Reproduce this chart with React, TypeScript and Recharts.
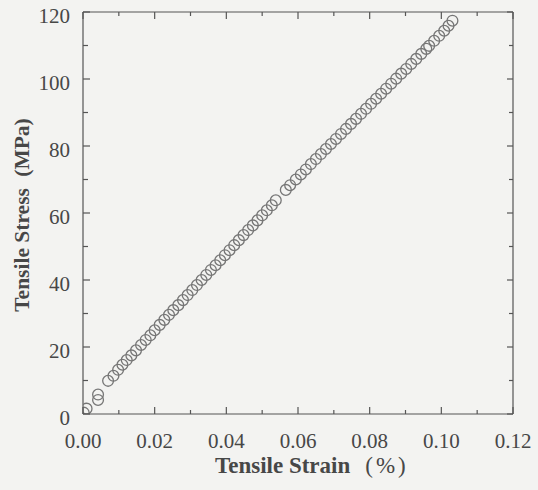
import { ScatterChart, Scatter, XAxis, YAxis } from 'recharts';

// tensile test readings (strain in %, stress in MPa)
const strain = [
  0.0002, 0.0010, 0.0042, 0.0042,
  0.0070, 0.0085, 0.0098, 0.0110, 0.0122, 0.0135, 0.0148, 0.0162, 0.0175, 0.0188,
  0.0200, 0.0214, 0.0227, 0.0240, 0.0252, 0.0266, 0.0279, 0.0292, 0.0305, 0.0318,
  0.0331, 0.0344, 0.0357, 0.0370, 0.0383, 0.0396, 0.0409, 0.0422, 0.0435, 0.0448,
  0.0461, 0.0474, 0.0487, 0.0500, 0.0513, 0.0527, 0.0538,
  0.0566, 0.0578, 0.0594, 0.0608, 0.0622, 0.0636, 0.0650, 0.0664, 0.0678, 0.0692,
  0.0706, 0.0720, 0.0734, 0.0748, 0.0762, 0.0776, 0.0790, 0.0804, 0.0818, 0.0832,
  0.0846, 0.0860, 0.0874, 0.0888, 0.0902, 0.0916, 0.0930, 0.0944, 0.0958, 0.0966,
  0.0980, 0.0994, 0.1008, 0.1020, 0.1031,
];
const stress = [
  0.4, 1.6, 4.2, 5.8,
  9.9, 11.4, 13.2, 14.7, 16.1, 17.5, 19.0, 20.6, 22.1, 23.5,
  25.0, 26.6, 28.1, 29.6, 31.0, 32.5, 34.0, 35.5, 37.0, 38.5,
  40.0, 41.5, 43.0, 44.4, 45.9, 47.4, 48.9, 50.4, 51.9, 53.4,
  54.9, 56.3, 57.8, 59.3, 60.8, 62.3, 63.8,
  66.9, 68.3, 70.0, 71.5, 73.0, 74.6, 76.1, 77.6, 79.1, 80.6,
  82.1, 83.6, 85.1, 86.6, 88.1, 89.6, 91.1, 92.6, 94.1, 95.6,
  97.1, 98.6, 100.1, 101.6, 103.0, 104.5, 106.0, 107.5, 109.0, 109.9,
  111.4, 112.9, 114.4, 115.9, 117.4,
];

const xTicks = [0, 0.01, 0.02, 0.03, 0.04, 0.05, 0.06, 0.07, 0.08, 0.09, 0.10, 0.11, 0.12];
const yTicks = [0, 10, 20, 30, 40, 50, 60, 70, 80, 90, 100, 110, 120];

const data = strain.map((s, i) => ({ strain: s, stress: stress[i] }));

const FONT = '"Liberation Serif", "Times New Roman", serif';
const INK = '#474747';
const AXIS = '#555';

const isMajorX = (v: number) => Math.round(v * 100) % 2 === 0;
const isMajorY = (v: number) => Math.round(v) % 20 === 0;

const BottomTick = ({ x, y, payload }: any) => {
  const major = isMajorX(payload.value);
  const base = y - 34;
  return (
    <g>
      <line x1={x} x2={x} y1={base} y2={base - (major ? 7 : 4)} stroke={AXIS} strokeWidth={1.2} />
      {major && (
        <text x={x} y={y} textAnchor="middle" fontFamily={FONT} fontSize={21} fill={INK}>
          {payload.value.toFixed(2)}
        </text>
      )}
    </g>
  );
};

const TopTick = ({ x, y, payload }: any) => {
  const major = isMajorX(payload.value);
  return <line x1={x} x2={x} y1={y} y2={y + (major ? 7 : 4)} stroke={AXIS} strokeWidth={1.2} />;
};

const LeftTick = ({ x, y, payload }: any) => {
  const major = isMajorY(payload.value);
  const base = x + 13;
  return (
    <g>
      <line x1={base} x2={base + (major ? 7 : 5)} y1={y} y2={y} stroke={AXIS} strokeWidth={1.2} />
      {major && (
        <text x={x} y={y + 11} textAnchor="end" fontFamily={FONT} fontSize={21} fill={INK}>
          {payload.value}
        </text>
      )}
    </g>
  );
};

const RightTick = ({ x, y, payload }: any) => {
  const major = isMajorY(payload.value);
  return <line x1={x} x2={x - (major ? 6 : 4)} y1={y} y2={y} stroke={AXIS} strokeWidth={1.2} />;
};

const XTitle = ({ viewBox }: any) => {
  const cx = viewBox.x + viewBox.width / 2;
  return (
    <text x={cx - 83} y={viewBox.y + 59} fontFamily={FONT} fontSize={23} fill={INK}>
      <tspan fontWeight="bold">Tensile Strain</tspan>
      <tspan dx={15} letterSpacing={3}>(%)</tspan>
    </text>
  );
};

const YTitle = ({ viewBox }: any) => {
  const x = viewBox.x + 29;
  const y = viewBox.y + viewBox.height / 2 + 2;
  return (
    <text
      x={x}
      y={y}
      transform={`rotate(-90, ${x}, ${y})`}
      textAnchor="middle"
      fontFamily={FONT}
      fontSize={21.5}
      fontWeight="bold"
      fill={INK}
    >
      Tensile Stress <tspan dx={6}>(MPa)</tspan>
    </text>
  );
};

const Ring = ({ cx, cy }: any) => (
  <circle cx={cx} cy={cy} r={5.4} fill="none" stroke="#767676" strokeWidth={1.3} />
);

const Nothing = () => <g />;

export default function App() {
  return (
    <div style={{ position: 'absolute', left: 0, top: 0, width: 538, height: 490, background: '#f3f3f1' }}>
      <ScatterChart width={538} height={490} margin={{ top: 11, right: 24, bottom: 0, left: 0 }}>
        <XAxis
          type="number"
          dataKey="strain"
          domain={[0, 0.12]}
          ticks={xTicks}
          allowDataOverflow
          height={76}
          tickSize={0}
          tickMargin={34}
          tickLine={false}
          tick={<BottomTick />}
          stroke={AXIS}
          strokeWidth={1.2}
          interval={0}
          label={<XTitle />}
        />
        <XAxis
          xAxisId="top"
          orientation="top"
          type="number"
          dataKey="strain"
          domain={[0, 0.12]}
          ticks={xTicks}
          allowDataOverflow
          height={1}
          tickSize={0}
          tickMargin={0}
          tickLine={false}
          tick={<TopTick />}
          stroke={AXIS}
          strokeWidth={1.2}
          interval={0}
        />
        <YAxis
          type="number"
          dataKey="stress"
          domain={[0, 120]}
          ticks={yTicks}
          allowDataOverflow
          width={83}
          tickSize={0}
          tickMargin={13}
          tickLine={false}
          tick={<LeftTick />}
          stroke={AXIS}
          strokeWidth={1.2}
          interval={0}
          label={<YTitle />}
        />
        <YAxis
          yAxisId="right"
          orientation="right"
          type="number"
          dataKey="stress"
          domain={[0, 120]}
          ticks={yTicks}
          allowDataOverflow
          width={1}
          tickSize={0}
          tickMargin={0}
          tickLine={false}
          tick={<RightTick />}
          stroke={AXIS}
          strokeWidth={1.2}
          interval={0}
        />
        <Scatter data={data} shape={<Ring />} isAnimationActive={false} />
        <Scatter data={data} xAxisId="top" yAxisId="right" shape={<Nothing />} isAnimationActive={false} />
      </ScatterChart>
    </div>
  );
}
